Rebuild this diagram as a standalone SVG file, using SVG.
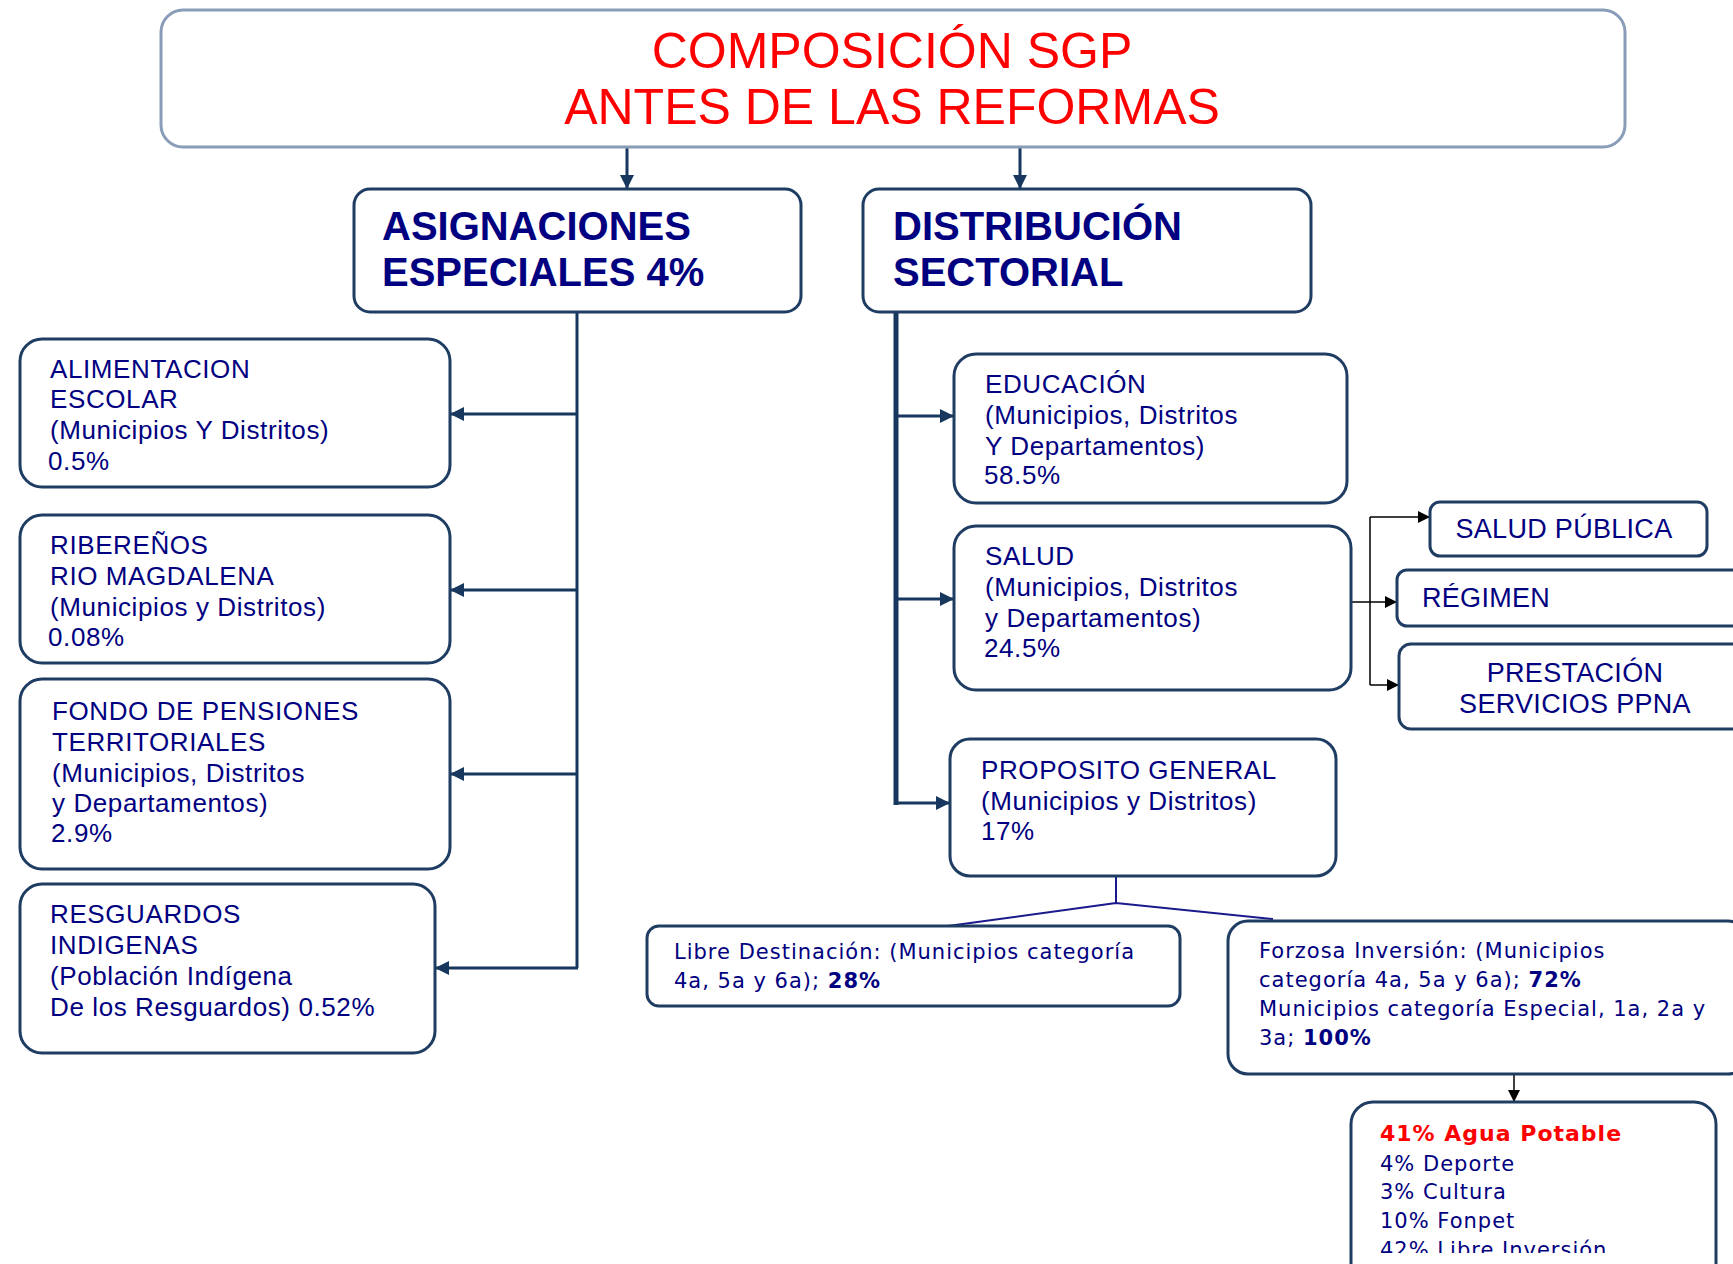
<svg xmlns="http://www.w3.org/2000/svg" width="1733" height="1264" viewBox="0 0 1733 1264">
<style>
.box{fill:#fff;stroke:#1F3D63;stroke-width:3}
.tbox{fill:#fff;stroke:#8A9DB8;stroke-width:3}
.t{font-family:"Liberation Sans",Arial,sans-serif;fill:#000080;font-size:26px;letter-spacing:0.6px}
.s{font-family:"Liberation Sans",Arial,sans-serif;fill:#000080;font-size:27px;letter-spacing:0.3px}
.v{font-family:"DejaVu Sans",Verdana,sans-serif;fill:#000080;font-size:21px;letter-spacing:1px}
.h{font-family:"Liberation Sans",Arial,sans-serif;font-weight:bold;font-size:40px;fill:#000080}
.ttl{font-family:"Liberation Sans",Arial,sans-serif;font-size:50px;fill:#FF0000;text-anchor:middle}
.b{font-weight:bold}
.conn{stroke:#17375E;stroke-width:3;fill:none}
.thick{stroke:#17375E;stroke-width:5;fill:none}
.blk{stroke:#000;stroke-width:1.5;fill:none}
.pl{stroke:#1A1A8C;stroke-width:2;fill:none}
</style>
<defs>
<marker id="an" viewBox="0 0 10 10" refX="10" refY="5" markerWidth="15" markerHeight="14" markerUnits="userSpaceOnUse" orient="auto"><path d="M0,0L10,5L0,10z" fill="#17375E"/></marker>
<marker id="ab" viewBox="0 0 10 10" refX="10" refY="5" markerWidth="13" markerHeight="12" markerUnits="userSpaceOnUse" orient="auto"><path d="M0,0L10,5L0,10z" fill="#000"/></marker>
<clipPath id="clipLast"><rect x="1351" y="1100" width="370" height="153"/></clipPath>
</defs>

<g id="connectors">
<path class="conn" d="M627,147V189" marker-end="url(#an)"/>
<path class="conn" d="M1020,147V189" marker-end="url(#an)"/>
<path class="conn" d="M577,312V968"/>
<path class="conn" d="M577,414H450" marker-end="url(#an)"/>
<path class="conn" d="M577,590H450" marker-end="url(#an)"/>
<path class="conn" d="M577,774H450" marker-end="url(#an)"/>
<path class="conn" d="M578,968H435" marker-end="url(#an)"/>
<path class="thick" d="M896,305V805"/>
<path class="conn" d="M896,416H954" marker-end="url(#an)"/>
<path class="conn" d="M896,599H954" marker-end="url(#an)"/>
<path class="conn" d="M896,803H950" marker-end="url(#an)"/>
<path class="blk" d="M1351,602H1397" marker-end="url(#ab)"/>
<path class="blk" d="M1370,517V685"/>
<path class="blk" d="M1370,517H1430" marker-end="url(#ab)"/>
<path class="blk" d="M1370,685H1399" marker-end="url(#ab)"/>
<path class="pl" d="M1116,876V903M1116,903L948,926M1116,903L1273,919"/>
<path class="blk" d="M1514,1074V1102" marker-end="url(#ab)"/>
</g>

<g id="title">
<rect class="tbox" x="161" y="10" width="1464" height="137" rx="22"/>
<text class="ttl" x="892" y="68">COMPOSICIÓN SGP</text>
<text class="ttl" x="892" y="124">ANTES DE LAS REFORMAS</text>
</g>

<g id="asignaciones">
<rect class="box" x="354" y="189" width="447" height="123" rx="16"/>
<text class="h" x="382" y="240">ASIGNACIONES</text>
<text class="h" x="382" y="286">ESPECIALES 4%</text>
</g>

<g id="distribucion">
<rect class="box" x="863" y="189" width="448" height="123" rx="16"/>
<text class="h" x="893" y="240">DISTRIBUCIÓN</text>
<text class="h" x="893" y="286">SECTORIAL</text>
</g>

<g id="alimentacion">
<rect class="box" x="20" y="339" width="430" height="148" rx="22"/>
<text class="t" x="50" y="378">ALIMENTACION</text>
<text class="t" x="50" y="408">ESCOLAR</text>
<text class="t" x="50" y="439">(Municipios Y Distritos)</text>
<text class="t" x="48" y="470">0.5%</text>
</g>

<g id="riberenos">
<rect class="box" x="20" y="515" width="430" height="148" rx="22"/>
<text class="t" x="50" y="554">RIBEREÑOS</text>
<text class="t" x="50" y="585">RIO MAGDALENA</text>
<text class="t" x="50" y="616">(Municipios y Distritos)</text>
<text class="t" x="48" y="646">0.08%</text>
</g>

<g id="fondo">
<rect class="box" x="20" y="679" width="430" height="190" rx="22"/>
<text class="t" x="52" y="720">FONDO DE PENSIONES</text>
<text class="t" x="52" y="751">TERRITORIALES</text>
<text class="t" x="52" y="782">(Municipios, Distritos</text>
<text class="t" x="52" y="812">y Departamentos)</text>
<text class="t" x="51" y="842">2.9%</text>
</g>

<g id="resguardos">
<rect class="box" x="20" y="884" width="415" height="169" rx="22"/>
<text class="t" x="50" y="923">RESGUARDOS</text>
<text class="t" x="50" y="954">INDIGENAS</text>
<text class="t" x="50" y="985">(Población Indígena</text>
<text class="t" x="50" y="1016">De los Resguardos) 0.52%</text>
</g>

<g id="educacion">
<rect class="box" x="954" y="354" width="393" height="149" rx="22"/>
<text class="t" x="985" y="393">EDUCACIÓN</text>
<text class="t" x="985" y="424">(Municipios, Distritos</text>
<text class="t" x="985" y="455">Y Departamentos)</text>
<text class="t" x="984" y="484">58.5%</text>
</g>

<g id="salud">
<rect class="box" x="954" y="526" width="397" height="164" rx="22"/>
<text class="t" x="985" y="565">SALUD</text>
<text class="t" x="985" y="596">(Municipios, Distritos</text>
<text class="t" x="985" y="627">y Departamentos)</text>
<text class="t" x="984" y="657">24.5%</text>
</g>

<g id="salud-publica">
<rect class="box" x="1430" y="502" width="277" height="54" rx="10"/>
<text class="s" x="1564" y="538" text-anchor="middle">SALUD PÚBLICA</text>
</g>

<g id="regimen">
<rect class="box" x="1397" y="570" width="350" height="56" rx="10"/>
<text class="s" x="1422" y="607">RÉGIMEN</text>
</g>

<g id="prestacion">
<rect class="box" x="1399" y="644" width="350" height="85" rx="12"/>
<text class="s" x="1575" y="682" text-anchor="middle">PRESTACIÓN</text>
<text class="s" x="1575" y="713" text-anchor="middle">SERVICIOS PPNA</text>
</g>

<g id="proposito">
<rect class="box" x="950" y="739" width="386" height="137" rx="20"/>
<text class="t" x="981" y="779">PROPOSITO GENERAL</text>
<text class="t" x="981" y="810">(Municipios y Distritos)</text>
<text class="t" x="981" y="840">17%</text>
</g>

<g id="libre">
<rect class="box" x="647" y="926" width="533" height="80" rx="12"/>
<text class="v" x="674" y="959">Libre Destinación: (Municipios categoría</text>
<text class="v" x="674" y="988">4a, 5a y 6a); <tspan class="b">28%</tspan></text>
</g>

<g id="forzosa">
<rect class="box" x="1228" y="921" width="520" height="153" rx="20"/>
<text class="v" x="1259" y="958">Forzosa Inversión: (Municipios</text>
<text class="v" x="1259" y="987">categoría 4a, 5a y 6a); <tspan class="b">72%</tspan></text>
<text class="v" x="1259" y="1016">Municipios categoría Especial, 1a, 2a y</text>
<text class="v" x="1259" y="1045">3a; <tspan class="b">100%</tspan></text>
</g>

<g id="destinos">
<rect class="box" x="1351" y="1102" width="365" height="200" rx="22"/>
<g clip-path="url(#clipLast)">
<text class="v b" x="1380" y="1141" style="fill:#FF0000;font-size:22px">41% Agua Potable</text>
<text class="v" x="1380" y="1171">4% Deporte</text>
<text class="v" x="1380" y="1199">3% Cultura</text>
<text class="v" x="1380" y="1228">10% Fonpet</text>
<text class="v" x="1380" y="1257">42% Libre Inversión</text>
</g>
</g>
</svg>
